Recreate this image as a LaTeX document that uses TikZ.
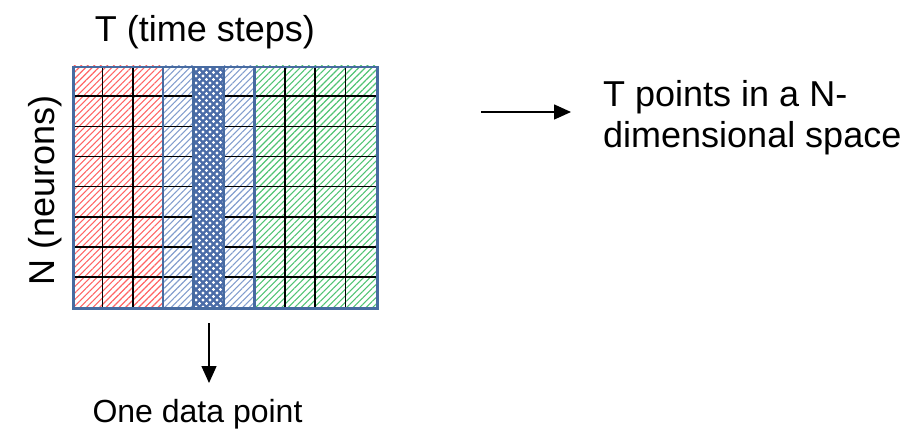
\documentclass[tikz,border=0pt]{standalone}
\usepackage{fontspec}
\setmainfont{Liberation Sans}
\usetikzlibrary{patterns.meta,arrows.meta}

\definecolor{frameblue}{RGB}{71,107,161}
\definecolor{hatchred}{RGB}{255,100,100}
\definecolor{hatchblue}{RGB}{130,157,205}
\definecolor{hatchgreen}{RGB}{80,195,115}
\definecolor{densefill}{RGB}{75,108,168}

\tikzset{
  bigtext/.style={font=\fontsize{36}{40}\selectfont, inner sep=0pt, text=black},
  smalltext/.style={font=\fontsize{32}{38}\selectfont, inner sep=0pt, text=black},
  hatch/.style={pattern={Lines[angle=45,distance=4.6pt,line width=1.1pt]}, pattern color=#1},
  gridline/.style={black, line width=1.5pt},
  bandline/.style={frameblue, line width=2.5pt},
  pointer/.style={black, line width=1.5pt, -{Triangle[length=17pt,width=15pt]}}
}

\begin{document}
\begin{tikzpicture}[x=1pt,y=-1pt]
\useasboundingbox (0,0) rectangle (913,433);

% coloured column bands of the N x T matrix
\fill[hatch=hatchred]   (72,66)    rectangle (163.2,307.2);
\fill[hatch=hatchblue]  (163.2,66) rectangle (193.6,307.2);
\fill[hatch=hatchblue]  (224,66)   rectangle (254.4,307.2);
\fill[hatch=hatchgreen] (254.4,66) rectangle (376,307.2);

% the highlighted time step
\fill[densefill] (193.6,66) rectangle (224,307.2);
\fill[pattern={Dots[radius=1.6pt,distance=7pt]}, pattern color=white]
  (193.6,66) rectangle (224,307.2);
\fill[pattern={Dots[radius=1.6pt,distance=7pt,xshift=3.5pt,yshift=3.5pt]}, pattern color=white]
  (193.6,66) rectangle (224,307.2);

% cell grid
\foreach \y in {96.15,126.3,156.45,186.6,216.75,246.9,277.05}
  \draw[gridline] (72,\y) -- (193.6,\y) (224,\y) -- (376,\y);
\foreach \x in {102.4,132.8,284.8,315.2,345.6}
  \draw[gridline] (\x,66) -- (\x,307.2);

% band separators and frame
\foreach \x in {163.2,193.6,224,254.4}
  \draw[bandline] (\x,66) -- (\x,307.2);
\node[draw=frameblue, line width=2.5pt, minimum width=304pt, minimum height=241.2pt,
      inner sep=0pt, anchor=north west] (grid) at (72,66) {};

% labels
\node[bigtext, anchor=base] (tlabel) at (205,42) {T (time steps)};
\node[bigtext, rotate=90, anchor=base] (nlabel) at (54,190) {N (neurons)};
\node[bigtext, align=left, anchor=base west] (space) at (603,147)
  {T points in a N-\\dimensional space};
\node[smalltext, anchor=base] (onepoint) at (197.5,422) {One data point};

% pointers
\coordinate (colfoot) at (209,323);
\coordinate (coltip)  at (209,383);
\draw[pointer] (colfoot) -- (coltip);
\coordinate (rowstart) at (481,112);
\coordinate (rowtip)   at (571,112);
\draw[pointer] (rowstart) -- (rowtip);
\end{tikzpicture}
\end{document}
